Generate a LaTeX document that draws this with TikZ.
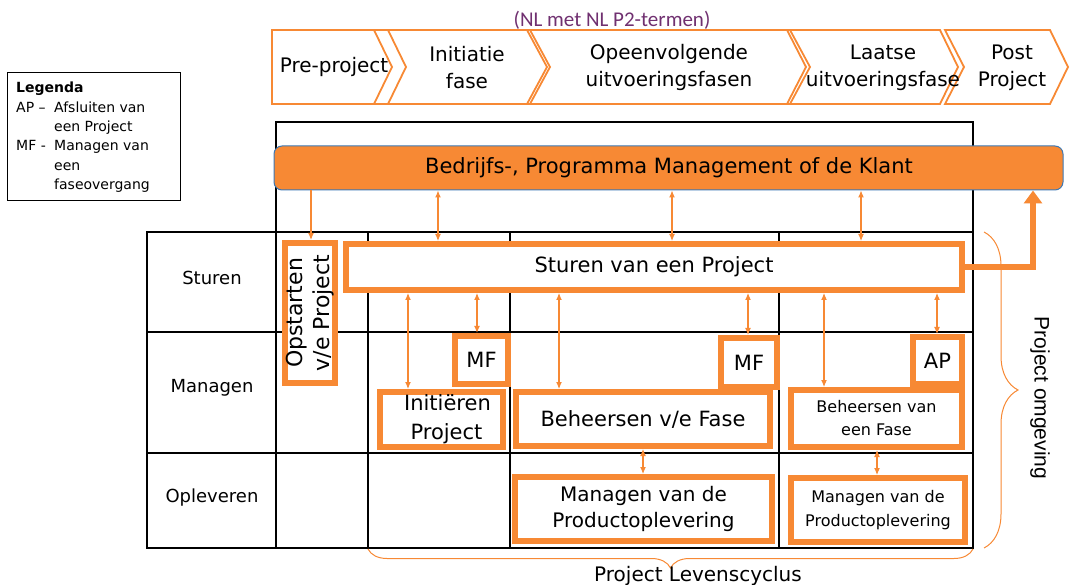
\documentclass[tikz,border=0pt]{standalone}
\usepackage{fontspec}
\setmainfont{DejaVu Sans}
\newfontfamily\calib{Carlito}
\newfontfamily\libsans{Liberation Sans}
\usetikzlibrary{arrows.meta,decorations.pathreplacing,calc}
\definecolor{org}{RGB}{247,137,52}
\definecolor{purp}{RGB}{112,48,112}
\definecolor{barblue}{RGB}{60,120,180}
\newcommand{\fsz}[2]{\fontsize{#1}{#2}\selectfont}
\begin{document}
\begin{tikzpicture}[x=1pt,y=-1pt,
  gridline/.style={draw=black, line width=1.5pt},
  chev/.style={draw=org, line width=1.8pt, line join=miter},
  chevtxt/.style={align=center, inner sep=0pt, font=\fsz{20}{27}},
  obox/.style={draw=org, line width=6pt, fill=white, inner sep=0pt, align=center},
  arr/.style={draw=org, line width=1.1pt, {Latex[length=7pt,width=6pt]}-{Latex[length=7pt,width=6pt]}},
  arrone/.style={draw=org, line width=1.1pt, -{Latex[length=7pt,width=6pt]}},
  lbl/.style={inner sep=0pt, font=\fsz{18}{22}},
  brc/.style={draw=org, line width=1pt, decorate}
]
\useasboundingbox (0,0) rectangle (1071,585);

% subtitle
\node[font=\calib\fsz{21}{24}, text=purp, inner sep=0pt] (sub) at (612,20) {(NL met NL P2-termen)};

% chevrons
\draw[chev] (272,30) -- (388,30) -- (406,67) -- (388,104) -- (272,104) -- cycle;
\draw[chev] (374,30) -- (530,30) -- (550,67) -- (530,104) -- (374,104) -- (392,67) -- cycle;
\draw[chev] (527,30) -- (790,30) -- (810,67) -- (790,104) -- (527,104) -- (547,67) -- cycle;
\draw[chev] (787,30) -- (940,30) -- (958,67) -- (940,104) -- (787,104) -- (806,67) -- cycle;
\draw[chev] (945,30) -- (1050,30) -- (1068,67) -- (1050,104) -- (945,104) -- (964,67) -- cycle;
\node[chevtxt] (c1) at (334,67) {Pre-project};
\node[chevtxt] (c2) at (467,68) {Initiatie\\fase};
\node[chevtxt] (c3) at (669,67) {Opeenvolgende\\uitvoeringsfasen};
\node[chevtxt] (c4) at (883,68) {Laatse\\uitvoeringsfase};
\node[chevtxt] (c5) at (1012,68) {Post\\Project};

% legend
\node[draw=black, line width=1pt, minimum width=173pt, minimum height=128pt, anchor=north west, inner sep=0pt] (legend) at (7,72) {};
\node[anchor=north west, inner sep=0pt, font=\fsz{14}{19.4}] (legtxt) at (16,79) {%
\begin{tabular}{@{}p{38pt}@{}l@{}}
\multicolumn{2}{@{}l}{\bfseries Legenda}\\
AP -- & Afsluiten van\\
 & een Project\\
MF - & Managen van\\
 & een\\
 & faseovergang
\end{tabular}};

% grid
\draw[gridline] (276,232) -- (276,122) -- (973,122) -- (973,548);
\draw[gridline] (147,232) rectangle (973,548);
\draw[gridline] (147,332) -- (973,332);
\draw[gridline] (147,453) -- (973,453);
\draw[gridline] (276,232) -- (276,548);
\draw[gridline] (368,232) -- (368,548);
\draw[gridline] (510,232) -- (510,548);
\draw[gridline] (779,232) -- (779,548);

\node[lbl] (l1) at (212,278) {Sturen};
\node[lbl] (l2) at (212,388) {Managen};
\node[lbl] (l3) at (212,498) {Opleveren};

% orange bar
\node[draw=barblue, line width=1pt, fill=org, rounded corners=8pt, minimum width=789pt, minimum height=44pt, inner sep=0pt] (bar) at (668.5,168) {};
\node[inner sep=0pt, font=\fsz{21}{24}] (bartxt) at (669,168) {Bedrijfs-, Programma Management of de Klant};

% boxes
\node[obox, rotate=90, minimum width=140pt, minimum height=50pt, font=\fsz{22}{27}] (opst) at (310,313) {Opstarten\\v/e Project};
\node[obox, minimum width=616pt, minimum height=46pt, font=\fsz{21}{24}] (sturen) at (654,267) {Sturen van een Project};
\node[obox, minimum width=53pt, minimum height=48pt, font=\fsz{21}{24}] (mf1) at (481.5,360) {MF};
\node[obox, minimum width=56pt, minimum height=49pt, font=\fsz{21}{24}] (mf2) at (749,362.5) {MF};
\node[obox, minimum width=49pt, minimum height=47pt, font=\fsz{21}{24}] (ap) at (937.5,360.5) {AP};
\node[obox, minimum width=123pt, minimum height=55pt, font=\fsz{21}{29}] (init) at (441.5,419.5) {\hspace*{12pt}Initiëren\\\hspace*{10pt}Project};
\node[obox, minimum width=254pt, minimum height=54pt, font=\fsz{21}{24}] (beh1) at (643,419) {Beheersen v/e Fase};
\node[obox, minimum width=171pt, minimum height=57pt, font=\fsz{16}{23}] (beh2) at (876.5,418.5) {Beheersen van\\een Fase};
\node[obox, minimum width=257pt, minimum height=64pt, font=\fsz{20}{26}] (man1) at (643.5,509) {Managen van de\\Productoplevering};
\node[obox, minimum width=174pt, minimum height=64pt, font=\fsz{16}{24}] (man2) at (878,510) {Managen van de\\Productoplevering};

% arrows bar -> sturen
\draw[arrone] (311,0 |- bar.south) -- (311,0 |- opst.east);
\draw[arr] (438,0 |- bar.south) -- (438,0 |- sturen.north);
\draw[arr] (672,0 |- bar.south) -- (672,0 |- sturen.north);
\draw[arr] (861,0 |- bar.south) -- (861,0 |- sturen.north);

% arrows sturen -> managen
\draw[arr] (408,0 |- sturen.south) -- (408,0 |- init.north);
\draw[arr] (477,0 |- sturen.south) -- (477,0 |- mf1.north);
\draw[arr] (559,0 |- sturen.south) -- (559,0 |- beh1.north);
\draw[arr] (748,0 |- sturen.south) -- (748,0 |- mf2.north);
\draw[arr] (824,0 |- sturen.south) -- (824,0 |- beh2.north);
\draw[arr] (937,0 |- sturen.south) -- (937,0 |- ap.north);

% arrows managen -> opleveren
\draw[arr] (643,0 |- beh1.south) -- (643,0 |- man1.north);
\draw[arr] (877,0 |- beh2.south) -- (877,0 |- man2.north);

% big arrow sturen -> bar
\draw[draw=org, line width=6pt, -{Triangle[length=13pt,width=18pt]}] (sturen.east) -| (1033,0 |- bar.south);

% braces
\coordinate (bl) at (368,549);
\coordinate (br) at (973,549);
\draw[brc, decoration={brace, amplitude=19pt}] (br) -- (bl);
\node[inner sep=0pt, font=\fsz{20}{24}] (plc) at (698,576) {Project Levenscyclus};
\coordinate (rt) at (984,232);
\coordinate (rb) at (984,548);
\draw[brc, decoration={brace, amplitude=34pt}] (rt) -- (rb);
\node[inner sep=0pt, rotate=-90, font=\libsans\fsz{21}{24}] (pom) at (1040,398) {Project omgeving};
\end{tikzpicture}
\end{document}
